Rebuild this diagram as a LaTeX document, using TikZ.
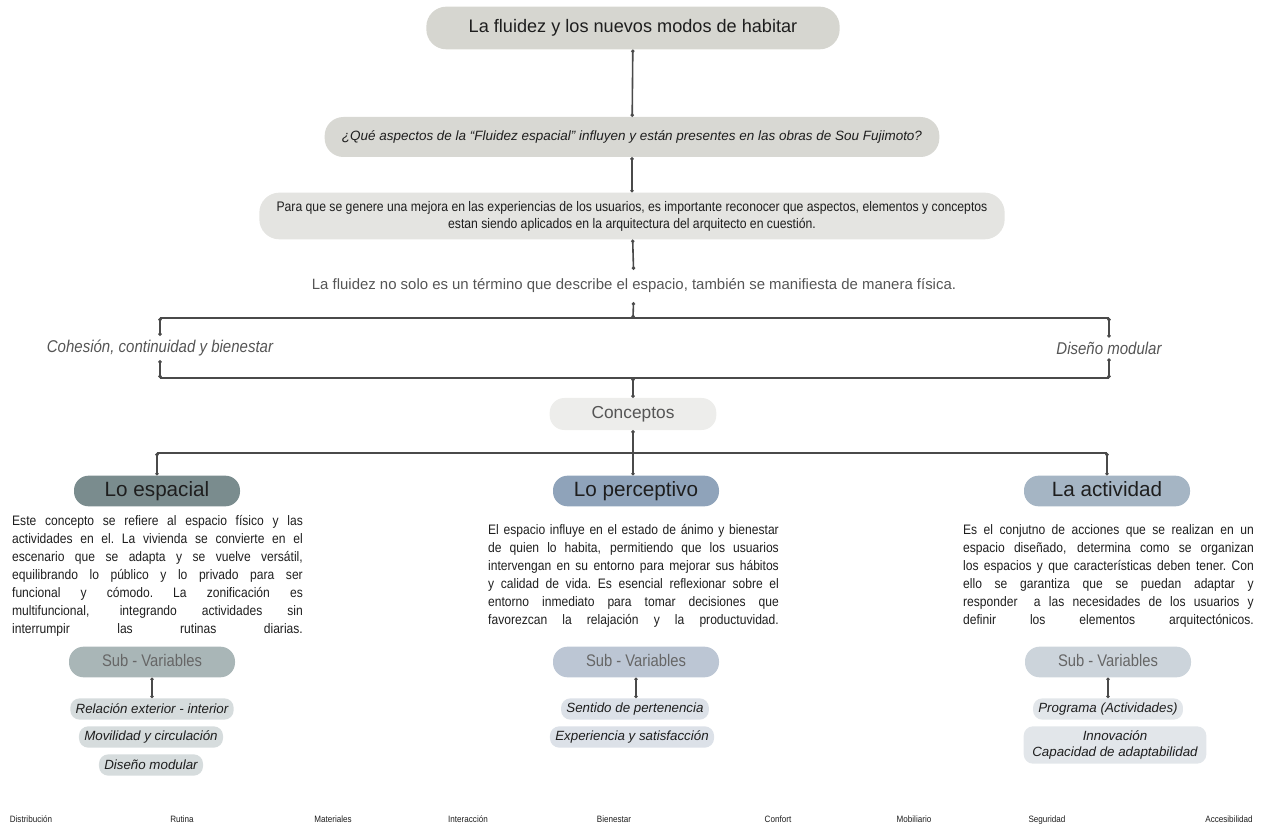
\documentclass[tikz,border=0pt]{standalone}
\usepackage{fontspec}
\setmainfont{Liberation Sans}
\newfontfamily\narrowfont[FakeStretch=0.88]{Liberation Sans}
\usepackage{xcolor}
\definecolor{linegray}{HTML}{4A4A4A}
\definecolor{topfill}{HTML}{D6D6D0}
\definecolor{askfill}{HTML}{D8D8D3}
\definecolor{parafill}{HTML}{E4E4E1}
\definecolor{concfill}{HTML}{EDEDEB}
\definecolor{espfill}{HTML}{7A8C8E}
\definecolor{perfill}{HTML}{8FA3BA}
\definecolor{actfill}{HTML}{A5B5C4}
\definecolor{espsub}{HTML}{A9B6B7}
\definecolor{persub}{HTML}{BCC6D4}
\definecolor{actsub}{HTML}{CCD4DB}
\definecolor{espitem}{HTML}{D6DCDD}
\definecolor{peritem}{HTML}{DCE1E8}
\definecolor{actitem}{HTML}{E2E6EA}
\definecolor{textdark}{HTML}{1E1E1E}
\definecolor{textgray}{HTML}{555555}
\usetikzlibrary{arrows.meta,positioning}
\newcommand{\jl}[1]{\leavevmode\hbox to 218pt{\spaceskip=0.24em plus 1fil\xspaceskip=0.24em plus 1fil\relax #1}}

\begin{document}
\begin{tikzpicture}[
    x=0.75pt, y=-0.75pt,
    pill/.style={rectangle, rounded corners=11pt, inner sep=0pt, align=center, text=textdark},
    topbox/.style={pill, fill=topfill, minimum width=310pt, minimum height=32pt, rounded corners=15pt, font=\fontsize{13.6}{16}\selectfont},
    askbox/.style={pill, fill=askfill, minimum width=461pt, minimum height=30pt, rounded corners=14pt, font=\itshape\fontsize{10.1}{12}\selectfont},
    parabox/.style={pill, fill=parafill, minimum width=559pt, minimum height=35pt, rounded corners=15pt, font=\narrowfont\fontsize{10.4}{12.8}\selectfont},
    conceptbox/.style={pill, minimum width=124.5pt, minimum height=23pt, text height=11.5pt, text depth=3.5pt, font=\fontsize{15.5}{18}\selectfont},
    subbox/.style={pill, minimum width=124.5pt, minimum height=23pt, text height=9pt, text depth=2.5pt, text=textgray!90, font=\narrowfont\fontsize{12.6}{14}\selectfont},
    itembox/.style={pill, rounded corners=7pt, inner xsep=4pt, minimum height=16pt, font=\itshape\fontsize{10}{12.5}\selectfont},
    parabody/.style={text width=218pt, align=left, inner sep=0pt, text=textdark, font=\narrowfont\fontsize{10.3}{13.5}\selectfont},
    aspect/.style={text=textgray, font=\narrowfont\itshape\fontsize{12.8}{15}\selectfont, inner sep=3pt},
    keyword/.style={text=textdark, font=\narrowfont\fontsize{6.9}{8}\selectfont, inner sep=0pt, text height=5pt, text depth=1.5pt},
    link/.style={draw=linegray, line width=1.2pt, {Circle[length=2.4pt]}-{Circle[length=2.4pt]}},
    bus/.style={draw=linegray, line width=1.3pt},
  ]
    % top chain
    \node[topbox] (top) at (633,28) {La fluidez y los nuevos modos de habitar};
    \node[askbox] (ask) at (632,137) {¿Qué aspectos de la “Fluidez espacial” influyen y están presentes en las obras de Sou Fujimoto?};
    \node[parabox] (mejora) at (632,216) {Para que se genere una mejora en las experiencias de los usuarios, es importante reconocer que aspectos, elementos y conceptos\\estan siendo aplicados en la arquitectura del arquitecto en cuestión.};
    \node[text=textgray, font=\fontsize{11.2}{13}\selectfont, inner sep=0pt, minimum height=24pt] (fisica) at (634,286) {La fluidez no solo es un término que describe el espacio, también se manifiesta de manera física.};

    \draw[link] (top) -- (ask);
    \draw[link] (ask) -- (mejora);
    \draw[link] (mejora) -- (fisica);

    % aspects between the two bus lines
    \coordinate (busA) at (633,318);
    \coordinate (busB) at (633,378);
    \node[aspect] (cohesion) at (160,348) {Cohesión, continuidad y bienestar};
    \node[aspect] (modular) at (1109,348) {Diseño modular};
    \draw[link] (fisica) -- (busA);
    \draw[bus] (cohesion.north |- busA) -- (modular.north |- busA);
    \draw[bus] (cohesion.north |- busB) -- (modular.north |- busB);
    \draw[link] (cohesion.north |- busA) -- (cohesion.north);
    \draw[link] (modular.north |- busA) -- (modular.north);
    \draw[link] (cohesion.south) -- (cohesion.south |- busB);
    \draw[link] (modular.south) -- (modular.south |- busB);

    \node[pill, fill=concfill, minimum width=125pt, minimum height=24pt, text=textgray, font=\fontsize{13}{15}\selectfont] (conceptos) at (633,414) {Conceptos};
    \draw[link] (busB) -- (conceptos);

    % three concepts
    \node[conceptbox, fill=espfill] (esp) at (157,491) {Lo espacial};
    \node[conceptbox, fill=perfill] (per) at (636,491) {Lo perceptivo};
    \node[conceptbox, fill=actfill] (act) at (1107,491) {La actividad};
    \coordinate (busC) at (633,453);
    \draw[bus] (esp.north |- busC) -- (act.north |- busC);
    \draw[link] (conceptos) -- (conceptos.south |- per.north);
    \draw[link] (esp.north |- busC) -- (esp.north);
    \draw[link] (act.north |- busC) -- (act.north);

    \node[parabody] (esptxt) at (157.5,576) {\jl{Este concepto se refiere al espacio físico y las}\\
      \jl{actividades en el. La vivienda se convierte en el}\\
      \jl{escenario que se adapta y se vuelve versátil,}\\
      \jl{equilibrando lo público y lo privado para ser}\\
      \jl{funcional y cómodo. La zonificación es}\\
      \jl{multifuncional, integrando actividades sin}\\
      \jl{interrumpir las rutinas diarias.}};
    \node[parabody] (pertxt) at (633.5,576) {\jl{El espacio influye en el estado de ánimo y bienestar}\\
      \jl{de quien lo habita, permitiendo que los usuarios}\\
      \jl{intervengan en su entorno para mejorar sus hábitos}\\
      \jl{y calidad de vida. Es esencial reflexionar sobre el}\\
      \jl{entorno inmediato para tomar decisiones que}\\
      \jl{favorezcan la relajación y la productuvidad.}};
    \node[parabody] (acttxt) at (1108.5,576) {\jl{Es el conjutno de acciones que se realizan en un}\\
      \jl{espacio diseñado, determina como se organizan}\\
      \jl{los espacios y que características deben tener. Con}\\
      \jl{ello se garantiza que se puedan adaptar y}\\
      \jl{responder \ a las necesidades de los usuarios y}\\
      \jl{definir los elementos arquitectónicos.}};

    % sub-variables
    \node[subbox, fill=espsub] (espsub) at (152,662) {Sub - Variables};
    \node[subbox, fill=persub] (persub) at (636,662) {Sub - Variables};
    \node[subbox, fill=actsub] (actsub) at (1108,662) {Sub - Variables};

    \node[itembox, fill=espitem] (esp1) at (152,709) {Relación exterior - interior};
    \node[itembox, fill=espitem] (esp2) at (151,737) {Movilidad y circulación};
    \node[itembox, fill=espitem] (esp3) at (151,765) {Diseño modular};
    \node[itembox, fill=peritem] (per1) at (635,709) {Sentido de pertenencia};
    \node[itembox, fill=peritem] (per2) at (632,737) {Experiencia y satisfacción};
    \node[itembox, fill=actitem] (act1) at (1108,709) {Programa (Actividades)};
    \node[itembox, fill=actitem, minimum width=137pt, minimum height=28pt] (act2) at (1115,745) {Innovación\\Capacidad de adaptabilidad};

    \draw[link] (espsub) -- (esp1);
    \draw[link] (persub) -- (persub.south |- per1.north);
    \draw[link] (actsub) -- (actsub.south |- act1.north);

    % keywords along the bottom
    \foreach \word/\xpos [count=\i] in {Distribución/31, Rutina/182, Materiales/333, Interacción/468, Bienestar/614, Confort/778, Mobiliario/914, Seguridad/1047, Accesibilidad/1229}
      \node[keyword] (kw\i) at (\xpos,820) {\word};

    \useasboundingbox (0,0) rectangle (1261,827);
  \end{tikzpicture}
\end{document}
